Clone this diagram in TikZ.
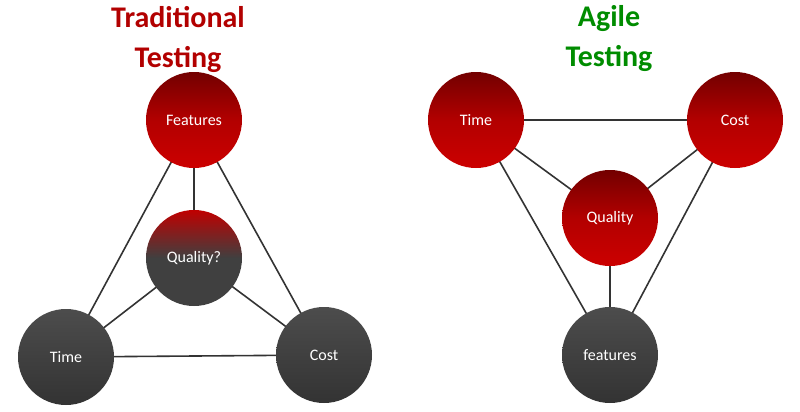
\documentclass[tikz,border=0pt]{standalone}
\usepackage{fontspec}
\setmainfont{Carlito}
\begin{document}
\begin{tikzpicture}[x=1pt,y=-1pt,
  ball/.style={circle,minimum size=96pt,inner sep=0pt,text=white,font=\fontsize{16}{18}\selectfont},
  redball/.style={ball,top color=red!45!black,bottom color=red!80!black,middle color=red!70!black},
  grayball/.style={ball,top color=black!70,bottom color=black!80},
  edge/.style={draw=black!80,line width=1.6pt},
  title/.style={font=\fontsize{30}{40}\selectfont\bfseries,align=center}]
\useasboundingbox (0,0) rectangle (800,412);
\node[title,text=red!70!black] (t1) at (178,39) {Traditional\\Testing};
\node[title,text=green!55!black] (t2) at (609,39) {Agile\\Testing};
\coordinate (cF) at (194,120); \coordinate (cQ) at (194,258);
\coordinate (cT) at (66,357); \coordinate (cC) at (324,355);
\coordinate (dT) at (476,120); \coordinate (dC) at (735,120);
\coordinate (dQ) at (610,218); \coordinate (dF) at (610,355);
\draw[edge] (cF)--(cQ) (cF)--(cT) (cF)--(cC) (cQ)--(cT) (cQ)--(cC) (cT)--(cC);
\draw[edge] (dT)--(dC) (dT)--(dQ) (dC)--(dQ) (dQ)--(dF) (dT)--(dF) (dC)--(dF);
\node[redball] (F) at (cF) {Features};
\node[ball,top color=red!75!black,bottom color=black!75,middle color=black!75] (Q) at (cQ) {Quality?};
\node[grayball] (T) at (cT) {Time};
\node[grayball] (C) at (cC) {Cost};
\node[redball] (T2) at (dT) {Time};
\node[redball] (C2) at (dC) {Cost};
\node[redball] (Q2) at (dQ) {Quality};
\node[grayball] (F2) at (dF) {features};
\end{tikzpicture}
\end{document}
